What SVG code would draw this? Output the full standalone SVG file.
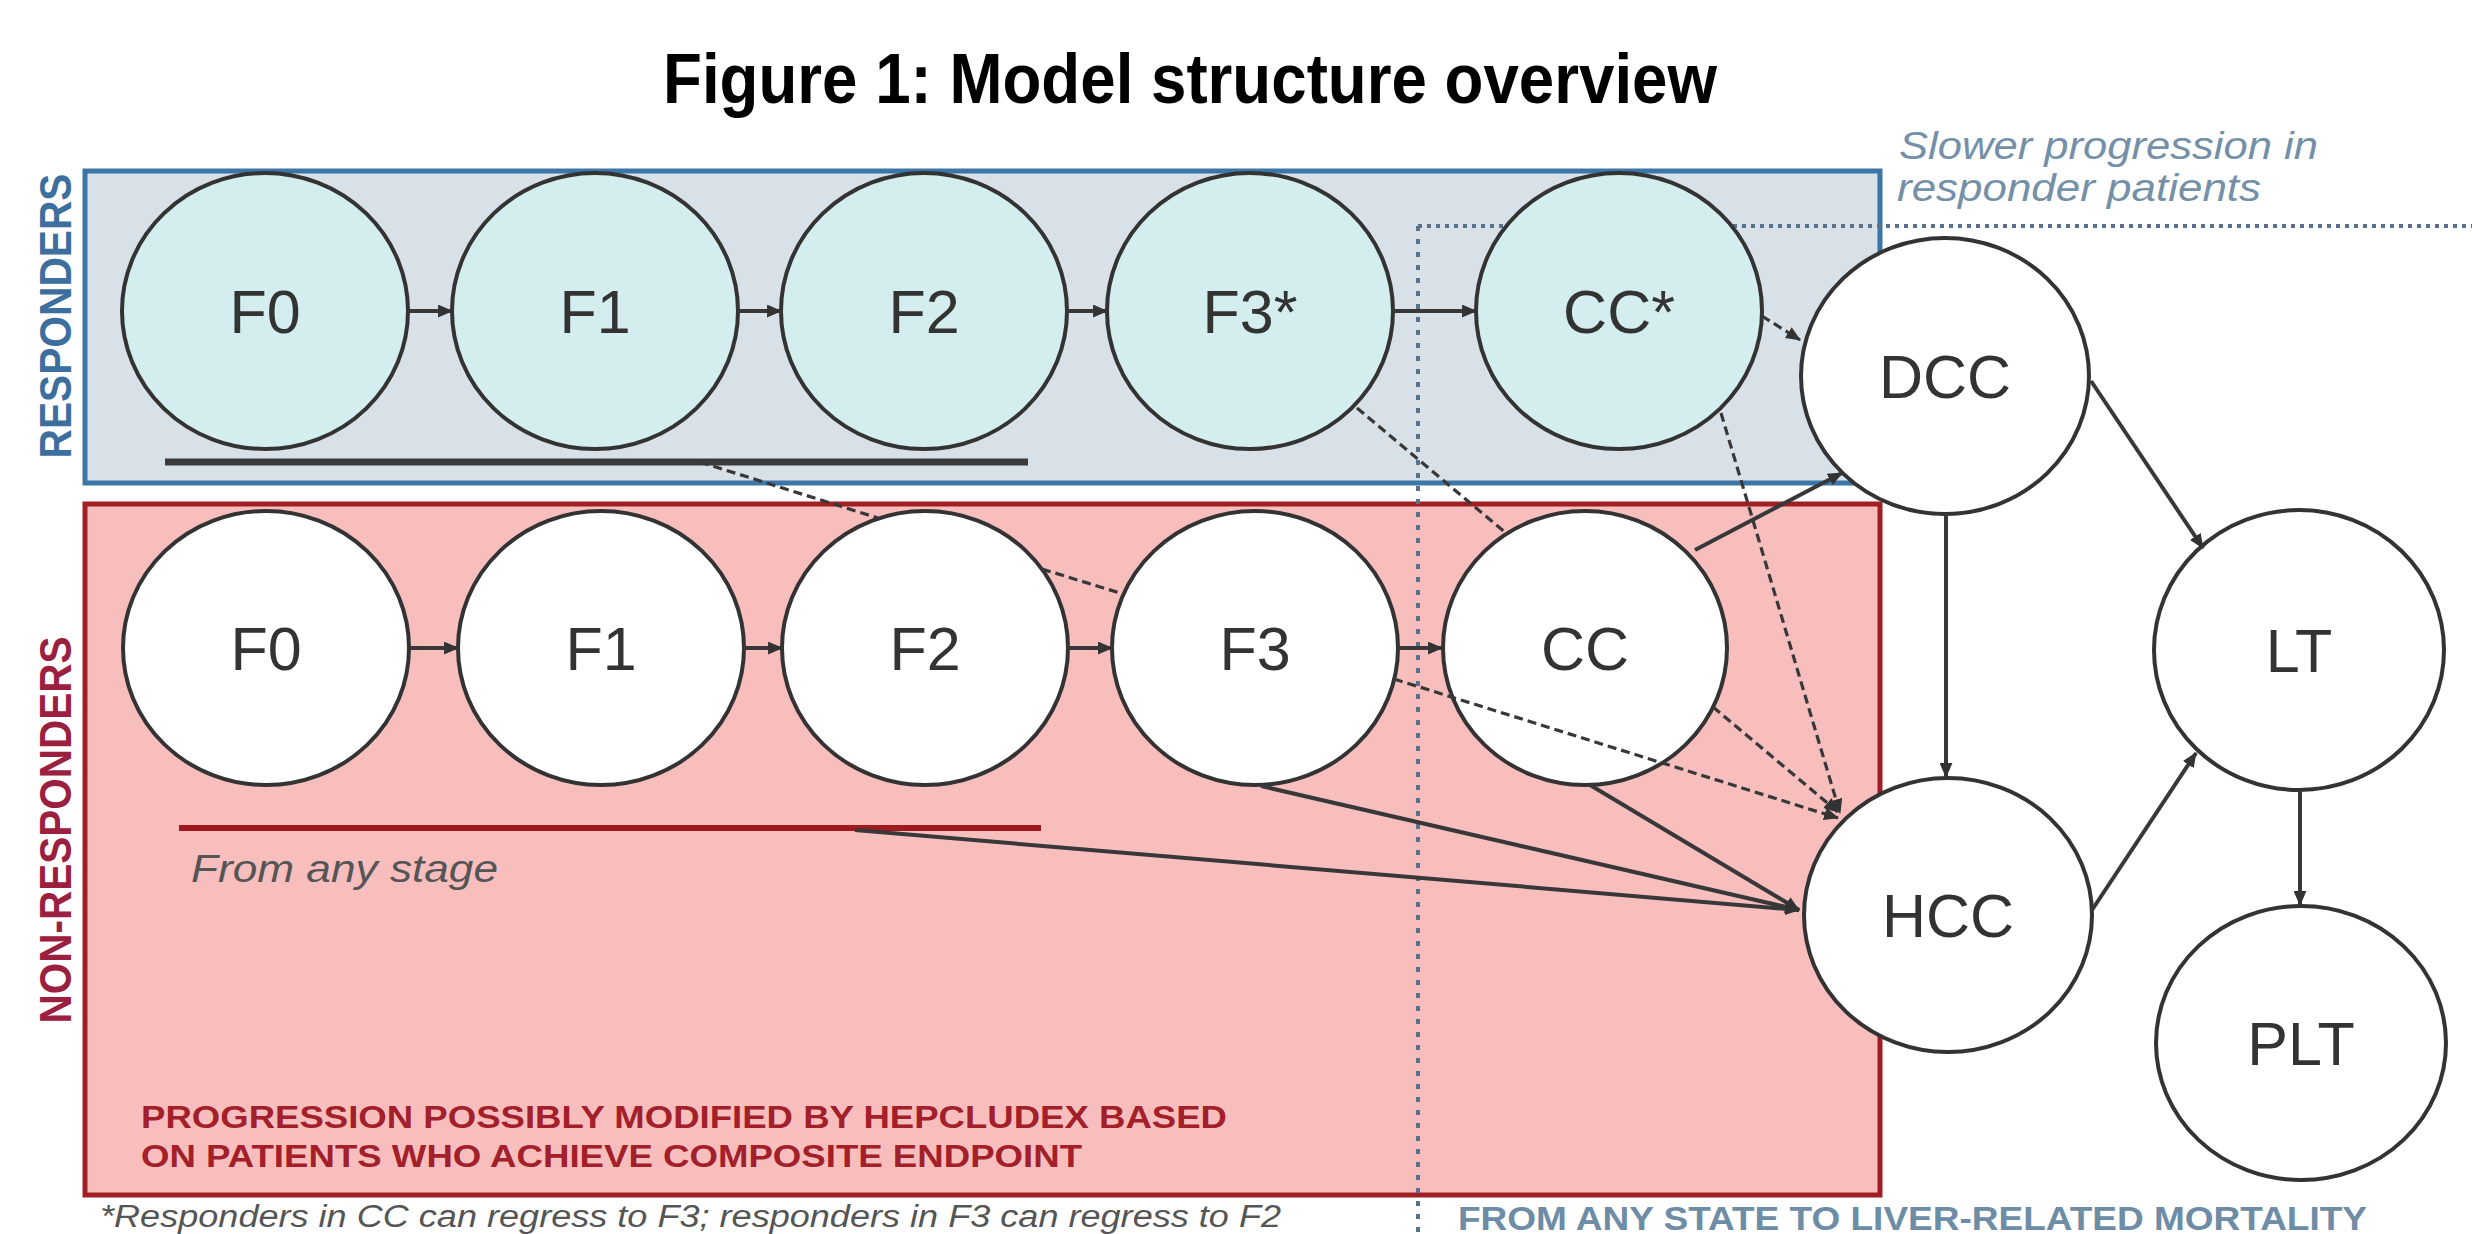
<svg xmlns="http://www.w3.org/2000/svg" width="2472" height="1234" viewBox="0 0 2472 1234">
<defs>
<style>
.nd{stroke:#333;stroke-width:4}
.resp{fill:#d4eef0}
.wht{fill:#fff}
.lbl{font-family:"Liberation Sans",Arial,sans-serif;font-size:61px;fill:#333;text-anchor:middle}
.ar{stroke:#383838;stroke-width:4;fill:none;marker-end:url(#ah)}
.ln{stroke:#383838;stroke-width:3.5;fill:none}
.da{stroke-dasharray:9 5;stroke-width:3.2}
.dot{stroke:#56728d;stroke-width:4;fill:none}
</style>
<marker id="ah" viewBox="0 0 14 12" markerWidth="15" markerHeight="13" markerUnits="userSpaceOnUse" refX="13" refY="6" orient="auto">
<path d="M0,0 L14,6 L0,12 z" fill="#333"/>
</marker>
</defs>
<rect width="2472" height="1234" fill="#fff"/>
<text x="1190" y="103" font-family="Liberation Sans,Arial,sans-serif" font-weight="bold" font-size="70" text-anchor="middle" textLength="1054" lengthAdjust="spacingAndGlyphs" fill="#000">Figure 1: Model structure overview</text>

<g id="responders-box">
<rect x="85" y="171" width="1795" height="312" fill="#d8e0e8" stroke="#3c76a6" stroke-width="5"/>
<text transform="translate(71,316) rotate(-90)" font-family="Liberation Sans,Arial,sans-serif" font-weight="bold" font-size="45" text-anchor="middle" textLength="285" lengthAdjust="spacingAndGlyphs" fill="#3c6f9e">RESPONDERS</text>
</g>
<g id="nonresponders-box">
<rect x="85" y="504" width="1795" height="691" fill="#f8bebe" stroke="#a11e24" stroke-width="5"/>
<text transform="translate(71,830) rotate(-90)" font-family="Liberation Sans,Arial,sans-serif" font-weight="bold" font-size="45" text-anchor="middle" textLength="387" lengthAdjust="spacingAndGlyphs" fill="#9b2040">NON-RESPONDERS</text>
<text x="141" y="1128" font-family="Liberation Sans,Arial,sans-serif" font-weight="bold" font-size="31" textLength="1086" lengthAdjust="spacingAndGlyphs" fill="#a3202a">PROGRESSION POSSIBLY MODIFIED BY HEPCLUDEX BASED</text>
<text x="141" y="1167" font-family="Liberation Sans,Arial,sans-serif" font-weight="bold" font-size="31" textLength="941" lengthAdjust="spacingAndGlyphs" fill="#a3202a">ON PATIENTS WHO ACHIEVE COMPOSITE ENDPOINT</text>
</g>

<g id="underlines">
<line x1="165" y1="462" x2="1028" y2="462" stroke="#3a3a3a" stroke-width="7"/>
<line x1="179" y1="828" x2="1041" y2="828" stroke="#9e1a1f" stroke-width="6"/>
<text x="191" y="882" font-family="Liberation Sans,Arial,sans-serif" font-style="italic" font-size="38" textLength="307" lengthAdjust="spacingAndGlyphs" fill="#555">From any stage</text>
</g>

<g id="dotted-guides">
<line class="dot" x1="1418" y1="226" x2="2472" y2="226" stroke-dasharray="4 5"/>
<line class="dot" x1="1418" y1="226" x2="1418" y2="1234" stroke-dasharray="5 8" stroke-width="3"/>
<text x="1899" y="159" font-family="Liberation Sans,Arial,sans-serif" font-style="italic" font-size="38" textLength="419" lengthAdjust="spacingAndGlyphs" fill="#7490a8">Slower progression in</text>
<text x="1897" y="201" font-family="Liberation Sans,Arial,sans-serif" font-style="italic" font-size="38" textLength="364" lengthAdjust="spacingAndGlyphs" fill="#7490a8">responder patients</text>
<text x="1458" y="1230" font-family="Liberation Sans,Arial,sans-serif" font-weight="bold" font-size="33" textLength="909" lengthAdjust="spacingAndGlyphs" fill="#6d8ca6">FROM ANY STATE TO LIVER-RELATED MORTALITY</text>
</g>

<g id="node-R-F0"><ellipse class="nd resp" cx="265" cy="311" rx="143" ry="138"/><text class="lbl" x="265" y="333">F0</text></g>
<g id="node-R-F1"><ellipse class="nd resp" cx="595" cy="311" rx="143" ry="138"/><text class="lbl" x="595" y="333">F1</text></g>
<g id="node-R-F2"><ellipse class="nd resp" cx="924" cy="311" rx="143" ry="138"/><text class="lbl" x="924" y="333">F2</text></g>
<g id="node-R-F3"><ellipse class="nd resp" cx="1250" cy="311" rx="143" ry="138"/><text class="lbl" x="1250" y="333">F3*</text></g>
<g id="node-R-CC"><ellipse class="nd resp" cx="1619" cy="311" rx="143" ry="138"/><text class="lbl" x="1619" y="333">CC*</text></g>

<g id="node-N-F0"><ellipse class="nd wht" cx="266" cy="648" rx="143" ry="137"/><text class="lbl" x="266" y="670">F0</text></g>
<g id="node-N-F1"><ellipse class="nd wht" cx="601" cy="648" rx="143" ry="137"/><text class="lbl" x="601" y="670">F1</text></g>
<g id="node-N-F2"><ellipse class="nd wht" cx="925" cy="648" rx="143" ry="137"/><text class="lbl" x="925" y="670">F2</text></g>
<g id="node-N-F3"><ellipse class="nd wht" cx="1255" cy="648" rx="143" ry="137"/><text class="lbl" x="1255" y="670">F3</text></g>
<g id="node-N-CC"><ellipse class="nd wht" cx="1585" cy="648" rx="142" ry="137"/><text class="lbl" x="1585" y="670">CC</text></g>

<g id="node-DCC"><ellipse class="nd wht" cx="1945" cy="376" rx="144" ry="138"/><text class="lbl" x="1945" y="398">DCC</text></g>
<g id="node-HCC"><ellipse class="nd wht" cx="1948" cy="915" rx="144" ry="137"/><text class="lbl" x="1948" y="937">HCC</text></g>
<g id="node-LT"><ellipse class="nd wht" cx="2299" cy="650" rx="145" ry="140"/><text class="lbl" x="2299" y="672">LT</text></g>
<g id="node-PLT"><ellipse class="nd wht" cx="2301" cy="1043" rx="145" ry="137"/><text class="lbl" x="2301" y="1065">PLT</text></g>

<g id="connectors">
<line class="ar" x1="408" y1="311" x2="452" y2="311"/>
<line class="ar" x1="738" y1="311" x2="781" y2="311"/>
<line class="ar" x1="1067" y1="311" x2="1107" y2="311"/>
<line class="ar" x1="1393" y1="311" x2="1476" y2="311"/>
<line class="ar" x1="409" y1="648" x2="458" y2="648"/>
<line class="ar" x1="744" y1="648" x2="782" y2="648"/>
<line class="ar" x1="1068" y1="648" x2="1112" y2="648"/>
<line class="ar" x1="1398" y1="648" x2="1442" y2="648"/>
<line class="ar da" x1="1762" y1="316" x2="1800" y2="340"/>
<line class="ar da" x1="1721" y1="413" x2="1840" y2="813"/>
<line class="ln da" x1="1357" y1="408" x2="1507" y2="534"/>
<line class="ar da" x1="1713" y1="707" x2="1838" y2="812"/>
<line class="ln da" x1="700" y1="462" x2="878" y2="518"/>
<line class="ln da" x1="1042" y1="569" x2="1123" y2="594"/>
<line class="ar da" x1="1394" y1="679" x2="1838" y2="818"/>
<line class="ar" x1="1695" y1="550" x2="1842" y2="473"/>
<line class="ar" x1="1946" y1="514" x2="1946" y2="777"/>
<line class="ar" x1="2091" y1="381" x2="2203" y2="548"/>
<line class="ar" x1="2092" y1="910" x2="2196" y2="753"/>
<line class="ar" x1="2300" y1="790" x2="2300" y2="905"/>
<line class="ar" x1="1261" y1="786" x2="1799" y2="910"/>
<line class="ar" x1="1590" y1="785" x2="1799" y2="910"/>
<line class="ar" x1="855" y1="830" x2="1799" y2="910"/>
</g>

<text x="100" y="1227" font-family="Liberation Sans,Arial,sans-serif" font-style="italic" font-size="31" textLength="1181" lengthAdjust="spacingAndGlyphs" fill="#555">*Responders in CC can regress to F3; responders in F3 can regress to F2</text>
</svg>
